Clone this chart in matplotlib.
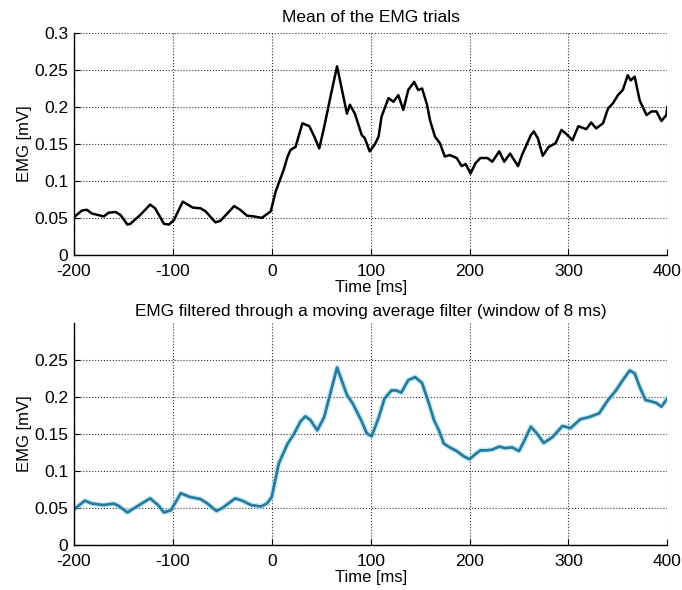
import numpy as np
import matplotlib
matplotlib.use("Agg")
import matplotlib.pyplot as plt
from matplotlib.ticker import FuncFormatter

# mean of the EMG trials
t_raw = [-200, -192, -187, -182, -170, -165, -158, -153, -146, -143, -133, -123, -118,
         -109, -104, -99, -90, -85, -80, -72, -67, -57, -52, -38, -32, -25, -18, -10, -1,
         4, 12, 16, 19, 24, 31, 38, 43, 48, 53, 60, 66, 76, 79, 84, 91, 94, 99, 104, 108,
         111, 118, 123, 128, 133, 138, 144, 148, 152, 157, 160, 165, 170, 175, 180, 187,
         192, 196, 201, 206, 211, 218, 223, 230, 235, 241, 249, 253, 262, 265, 269, 274,
         280, 287, 293, 299, 304, 310, 318, 323, 328, 335, 340, 345, 350, 355, 360, 363,
         367, 372, 379, 384, 389, 394, 399, 400]
emg_raw = [0.051, 0.060, 0.061, 0.056, 0.052, 0.057, 0.058, 0.054, 0.041, 0.042, 0.054,
           0.068, 0.063, 0.042, 0.041, 0.047, 0.072, 0.068, 0.064, 0.063, 0.059, 0.044,
           0.046, 0.066, 0.061, 0.053, 0.052, 0.050, 0.059, 0.086, 0.115, 0.133, 0.142,
           0.146, 0.178, 0.174, 0.160, 0.144, 0.173, 0.218, 0.255, 0.191, 0.203, 0.191,
           0.162, 0.158, 0.140, 0.149, 0.160, 0.187, 0.212, 0.207, 0.216, 0.196, 0.223,
           0.234, 0.223, 0.225, 0.203, 0.182, 0.160, 0.151, 0.133, 0.135, 0.131, 0.120,
           0.123, 0.110, 0.124, 0.131, 0.131, 0.126, 0.140, 0.126, 0.137, 0.120, 0.135,
           0.162, 0.167, 0.158, 0.134, 0.146, 0.151, 0.169, 0.162, 0.155, 0.174, 0.170,
           0.179, 0.171, 0.178, 0.198, 0.205, 0.216, 0.223, 0.243, 0.236, 0.241, 0.209,
           0.189, 0.194, 0.194, 0.181, 0.189, 0.200]

# moving average filtered EMG
t_filt = [-200, -189, -182, -170, -160, -155, -146, -134, -123, -115, -109, -102, -92,
          -83, -72, -65, -56, -50, -37, -30, -21, -11, -5, 0, 7, 16, 22, 29, 34, 39, 46,
          53, 60, 66, 76, 82, 91, 96, 101, 108, 114, 121, 126, 131, 138, 145, 152, 159,
          164, 169, 174, 180, 187, 194, 200, 206, 211, 218, 223, 230, 236, 243, 250, 255,
          262, 268, 275, 284, 294, 302, 312, 321, 331, 340, 348, 355, 362, 367, 372, 378,
          384, 389, 394, 400]
emg_filt = [0.048, 0.060, 0.056, 0.054, 0.056, 0.053, 0.044, 0.054, 0.063, 0.054, 0.044,
            0.047, 0.070, 0.065, 0.062, 0.056, 0.046, 0.050, 0.063, 0.060, 0.054, 0.052,
            0.056, 0.065, 0.110, 0.137, 0.149, 0.167, 0.174, 0.169, 0.155, 0.173, 0.209,
            0.240, 0.203, 0.191, 0.167, 0.151, 0.147, 0.172, 0.198, 0.209, 0.209, 0.206,
            0.223, 0.227, 0.219, 0.191, 0.169, 0.155, 0.137, 0.132, 0.127, 0.120, 0.116,
            0.123, 0.128, 0.128, 0.129, 0.133, 0.131, 0.132, 0.127, 0.140, 0.160, 0.151,
            0.138, 0.146, 0.161, 0.158, 0.170, 0.173, 0.178, 0.196, 0.209, 0.223, 0.236,
            0.232, 0.214, 0.196, 0.194, 0.192, 0.187, 0.198]

plt.rcParams['font.family'] = ['Liberation Sans', 'DejaVu Sans']
plt.rcParams['axes.unicode_minus'] = False

fig = plt.figure(figsize=(6.82, 5.90), dpi=100)
ax1 = fig.add_axes([0.1085, 0.568, 0.870, 0.376])
ax2 = fig.add_axes([0.1085, 0.0763, 0.870, 0.376])

fmt = FuncFormatter(lambda v, p: '%g' % round(v, 3))


def style(ax, yticks):
    ax.set_xlim(-200, 400)
    ax.set_ylim(0, 0.3)
    ax.set_xticks([-200, -100, 0, 100, 200, 300, 400])
    ax.set_yticks(yticks)
    ax.yaxis.set_major_formatter(fmt)
    ax.grid(True, linestyle=':', color='black', linewidth=0.8, alpha=0.8)
    ax.spines['top'].set_visible(False)
    ax.spines['right'].set_visible(False)
    for s in ['left', 'bottom']:
        ax.spines[s].set_linewidth(1.0)
    ax.tick_params(direction='in', length=4, labelsize=12.5)
    ax.tick_params(axis='x', pad=6.5)
    ax.tick_params(axis='y', pad=4)
    ax.set_xlabel('Time [ms]', fontsize=12, labelpad=1)
    ax.set_ylabel('EMG [mV]', fontsize=12, labelpad=2)


ax1.plot(t_raw, emg_raw, color='black', linewidth=1.8)
style(ax1, [0, 0.05, 0.1, 0.15, 0.2, 0.25, 0.3])
ax1.set_title('Mean of the EMG trials', fontsize=12.5, pad=8)

ax2.plot(t_filt, emg_filt, color='#9fe3f5', linewidth=4, alpha=0.6)
ax2.plot(t_filt, emg_filt, color='#2b7a9c', linewidth=2)
style(ax2, [0, 0.05, 0.1, 0.15, 0.2, 0.25])
ax2.set_title('EMG filtered through a moving average filter (window of 8 ms)',
              fontsize=12.3, pad=5)

fig.savefig('out.png', dpi=100)
